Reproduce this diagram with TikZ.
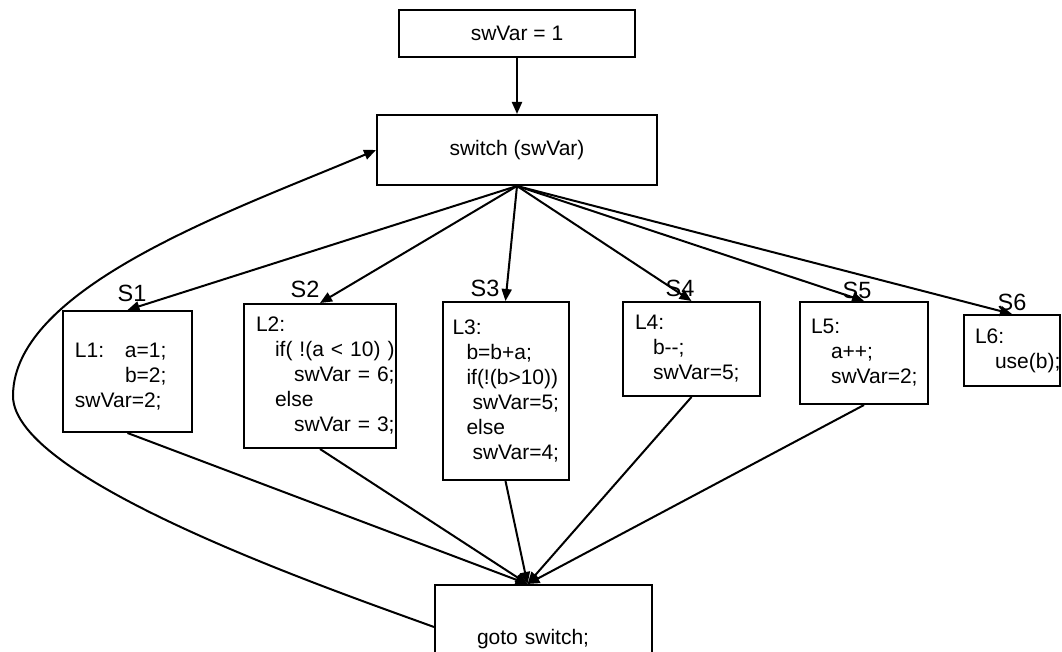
\documentclass[tikz,border=0pt]{standalone}
\usepackage{fontspec}
\setmainfont{Liberation Sans}
\usetikzlibrary{arrows.meta,positioning,calc}

\begin{document}
\begin{tikzpicture}[x=0.5pt,y=-0.5pt,
  box/.style={draw,line width=1pt,font=\fontsize{10.5}{12.5}\selectfont},
  cbox/.style={box,align=left,inner ysep=0pt},
  lab/.style={font=\fontsize{11.75}{14}\selectfont,inner sep=1pt}]
\useasboundingbox (0,0) rectangle (1062,652);
\node[box,minimum width=118pt,minimum height=23.5pt] (I) at (517,33.5) {swVar = 1};
\node[box,minimum width=140pt,minimum height=35pt] (S) at (517,150) {switch (swVar)};
\node[cbox,text width=52.5pt,inner xsep=6pt,minimum height=60.5pt] (L1) at (127.5,371.5)
  {\mbox{}\\ \makebox[25pt][l]{L1:}a=1;\\ \hspace*{25pt}b=2;\\ swVar=2;};
\node[cbox,text width=64pt,inner xsep=6pt,minimum height=72pt] (L2) at (320,376)
  {L2:\\ \hspace*{9.5pt}if(~!(a~<~10)~)\\ \hspace*{19pt}swVar~=~6;\\ \hspace*{9.5pt}else\\ \hspace*{19pt}swVar~=~3;};
\node[cbox,text width=53pt,inner xsep=5pt,minimum height=89pt] (L3) at (505.5,391)
  {L3:\\ \hspace*{7pt}b=b+a;\\ \hspace*{7pt}if(!(b>10))\\ \hspace*{10pt}swVar=5;\\ \hspace*{7pt}else\\ \hspace*{10pt}swVar=4;};
\node[cbox,text width=56.5pt,inner xsep=6pt,minimum height=47pt] (L4) at (691.5,349)
  {L4:\\ \hspace*{9pt}b-{}-;\\ \hspace*{9pt}swVar=5;};
\node[cbox,text width=53pt,inner xsep=5.5pt,minimum height=51pt] (L5) at (864,353)
  {L5:\\ \hspace*{10pt}a++;\\ \hspace*{10pt}swVar=2;};
\node[cbox,text width=37pt,inner xsep=5.5pt,minimum height=35.5pt] (L6) at (1012,350.5)
  {L6:\\ \hspace*{10pt}use(b);};
\node[cbox,text width=66.5pt,inner xsep=21pt,minimum height=54pt] (G) at (543.5,639) {goto switch;};
% case labels
\node[lab] (s1) at (132,293) {S1};
\node[lab] (s2) at (305,289) {S2};
\node[lab] (s3) at (485,288) {S3};
\node[lab] (s4) at (680,288) {S4};
\node[lab] (s5) at (857,290) {S5};
\node[lab] (s6) at (1012,302) {S6};
\coordinate (T) at ([xshift=-8pt]G.north);
\coordinate (W) at (13,396);
\path[->,line width=1pt,>={Triangle[length=6pt,width=5pt]}]
(I) edge (S)
(S.south) edge (L1.north)
(S.south) edge (L2.north)
(S.south) edge (L3.north)
(S.south) edge (L4.north)
(S.south) edge (L5.north)
(S.south) edge (L6.north)
(L1.south) edge (T)
(L2.south) edge (T)
(L3.south) edge (T)
(L4.south) edge (T)
(L5.south) edge (T);
% back edge
\draw[->,line width=1pt,>={Triangle[length=6pt,width=5pt]}]
  ([yshift=6pt]G.west) .. controls +(160:55pt) and +(-90:42pt) .. (W)
  .. controls +(90:55pt) and +(203:75pt) .. (S.west);
\end{tikzpicture}
\end{document}
